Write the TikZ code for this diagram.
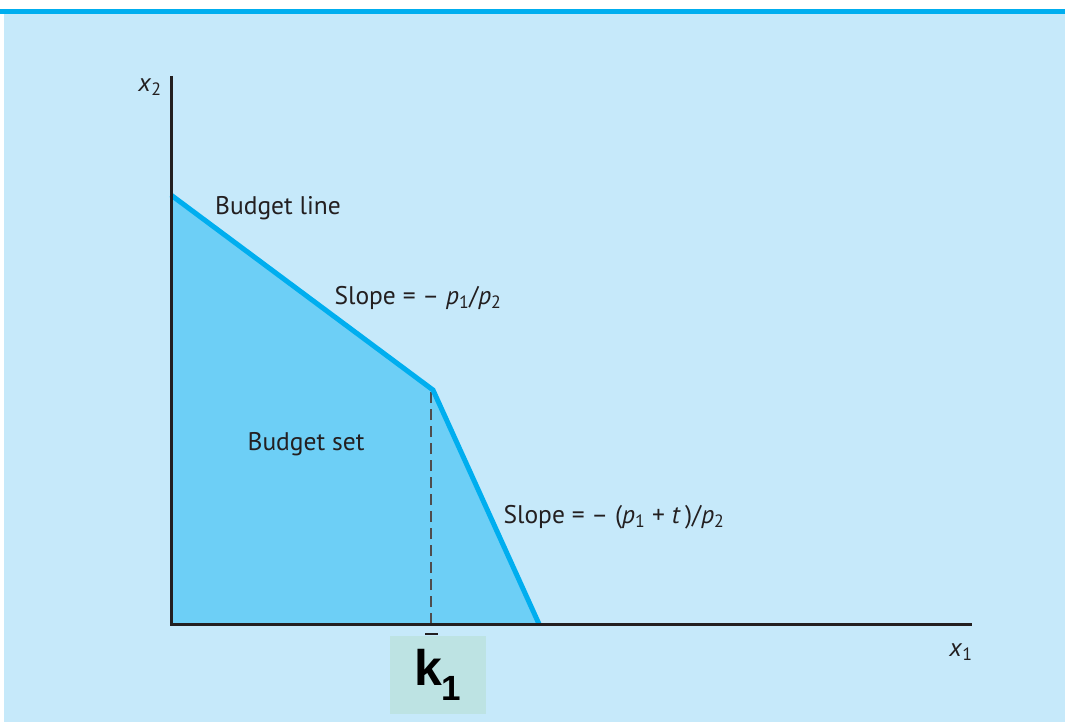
\documentclass[tikz,border=0pt]{standalone}
\usepackage{fontspec}
\setmainfont{PT Sans}
\newfontfamily\kfont{Liberation Sans}
\usetikzlibrary{positioning}

\definecolor{panelblue}{HTML}{C6E9FA}
\definecolor{barblue}{HTML}{00AEEF}
\definecolor{setblue}{HTML}{6DCFF6}
\definecolor{axisblack}{HTML}{231F20}
\definecolor{tagteal}{HTML}{BDE3E3}

% italic variable with an upright subscript
\newcommand{\ivar}[2]{\textit{#1}\textsubscript{#2}}

\begin{document}
\begin{tikzpicture}[
  x=1pt, y=-1pt,
  font=\fontsize{25.5}{28}\selectfont,
  axis/.style={draw=axisblack, line width=3pt},
  budget/.style={draw=barblue, line width=5pt, line join=miter},
  guide/.style={draw=axisblack!80, line width=1.2pt, dash pattern=on 11pt off 6pt},
  lbl/.style={text=axisblack, inner sep=0pt},
  tag/.style={fill=tagteal, minimum width=96pt, minimum height=78pt, inner sep=0pt,
    font=\kfont\bfseries\fontsize{50}{52}\selectfont},
]
\useasboundingbox (0,0) rectangle (1065,722);

% ---------------- panel ----------------
\fill[panelblue] (4,14) rectangle (1065,722);
\fill[barblue] (0,9) rectangle (1065,14);

% ---------------- corner points ----------------
\coordinate (origin) at (171,624);
\coordinate (ytop) at (171,76);
\coordinate (xend) at (972,624);
\coordinate (icept) at (171,195);
\coordinate (kink) at (433,390);
\coordinate (xcut) at (539,624);
\coordinate (kfoot) at (431,624);

% ---------------- budget set ----------------
\fill[setblue] (icept) -- (kink) -- (xcut) -- (origin) -- cycle;
\draw[guide] (kfoot) -- (431,392);
\draw[budget] (icept) -- (kink) -- (xcut);

% ---------------- axes ----------------
\draw[axis] (ytop) -- (origin) -- (xend);
\draw[axisblack, line width=1.5pt] (425,634) -- (438,634);

% ---------------- labels ----------------
\node[lbl] (xtwo) at (150,87) {\ivar{x}{2}};
\node[lbl] (xone) at (961,652) {\ivar{x}{1}};
\node[lbl] (bline) at (278,208) {Budget line};
\node[lbl] (slopeA) at (418,298) {Slope = -- \ivar{p}{1}/\ivar{p}{2}};
\node[lbl] (bset) at (306,444) {Budget set};
\node[lbl] (slopeB) at (614,517) {Slope = -- (\ivar{p}{1} + \textit{t}\,)/\ivar{p}{2}};
\node[tag] (kone) at (438,675) {k\textsubscript{1}};

\end{tikzpicture}
\end{document}
